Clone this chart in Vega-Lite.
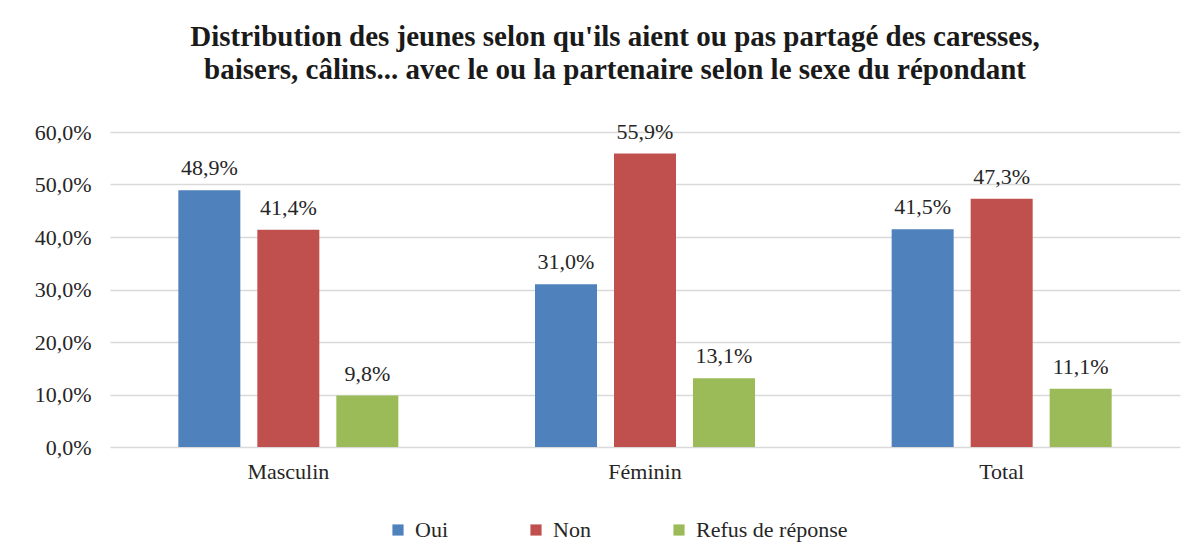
{
  "$schema": "https://vega.github.io/schema/vega-lite/v6.json",
  "width": 1070,
  "height": 315,
  "autosize": {"type": "none"},
  "padding": {"left": 110, "top": 132, "right": 19, "bottom": 98},
  "background": "white",
  "config": {
    "locale": {"number": {"decimal": ",", "thousands": " ", "grouping": [3], "currency": ["", " €"]}},
    "view": {"stroke": null}
  },
  "title": {
    "text": ["Distribution des jeunes selon qu'ils aient  ou pas partagé des caresses,", "baisers, câlins... avec le ou la  partenaire selon le sexe du répondant"],
    "font": "Liberation Serif",
    "fontSize": 29,
    "fontWeight": "bold",
    "color": "#1a1a1a",
    "anchor": "middle",
    "dx": -30,
    "offset": 36,
    "lineHeight": 33
  },
  "data": {
    "values": [
      {"sexe": "Masculin", "reponse": "Oui", "pct": 0.489},
      {"sexe": "Masculin", "reponse": "Non", "pct": 0.414},
      {"sexe": "Masculin", "reponse": "Refus de réponse", "pct": 0.098},
      {"sexe": "Féminin", "reponse": "Oui", "pct": 0.310},
      {"sexe": "Féminin", "reponse": "Non", "pct": 0.559},
      {"sexe": "Féminin", "reponse": "Refus de réponse", "pct": 0.131},
      {"sexe": "Total", "reponse": "Oui", "pct": 0.415},
      {"sexe": "Total", "reponse": "Non", "pct": 0.473},
      {"sexe": "Total", "reponse": "Refus de réponse", "pct": 0.111}
    ]
  },
  "encoding": {
    "x": {
      "field": "sexe", "type": "nominal", "sort": ["Masculin", "Féminin", "Total"],
      "scale": {"paddingInner": 0, "paddingOuter": 0},
      "axis": {"title": null, "labelAngle": 0, "ticks": false, "domain": false, "labelFont": "Liberation Serif", "labelFontSize": 22, "labelColor": "#262626", "labelPadding": 14}
    },
    "xOffset": {
      "field": "reponse", "type": "nominal", "sort": ["Oui", "Non", "Refus de réponse"],
      "scale": {"paddingInner": 0.215, "paddingOuter": 0.865}
    },
    "y": {
      "field": "pct", "type": "quantitative",
      "scale": {"domain": [0, 0.6]},
      "axis": {"title": null, "values": [0, 0.1, 0.2, 0.3, 0.4, 0.5, 0.6], "format": ".1%", "grid": true, "gridColor": "#d9d9d9", "gridWidth": 1.5, "domain": false, "ticks": false, "labelPadding": 19, "labelFont": "Liberation Serif", "labelFontSize": 22, "labelColor": "#262626"}
    }
  },
  "layer": [
    {
      "mark": {"type": "bar"},
      "encoding": {
        "color": {
          "field": "reponse", "type": "nominal", "sort": ["Oui", "Non", "Refus de réponse"],
          "scale": {"domain": ["Oui", "Non", "Refus de réponse"], "range": ["#4f81bd", "#c0504d", "#9bbb59"]},
          "legend": {
            "title": null, "orient": "none", "legendX": 277, "legendY": 387, "direction": "horizontal",
            "symbolType": "square", "symbolSize": 125, "symbolStrokeWidth": 0, "columnPadding": 77,
            "labelFont": "Liberation Serif", "labelFontSize": 22, "labelColor": "#262626", "labelOffset": 6
          }
        }
      }
    },
    {
      "mark": {"type": "text", "baseline": "alphabetic", "dy": -15, "font": "Liberation Serif", "fontSize": 22, "color": "#262626"},
      "encoding": {"text": {"field": "pct", "type": "quantitative", "format": ".1%"}}
    }
  ]
}
